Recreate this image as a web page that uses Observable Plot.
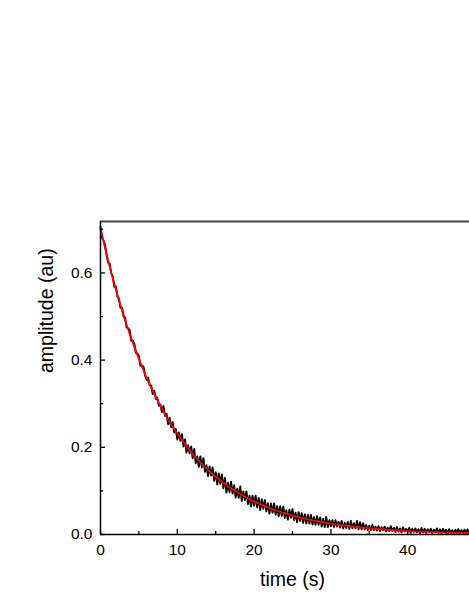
<!DOCTYPE html>
<html>
<head>
<meta charset="utf-8">
<script src="https://cdn.jsdelivr.net/npm/d3@7"></script>
<script src="https://cdn.jsdelivr.net/npm/@observablehq/plot@0.6"></script>
<style>
  html, body { margin: 0; padding: 0; background: #fff; overflow: hidden; width: 469px; height: 607px; }
  #chart { width: 469px; height: 607px; overflow: hidden; }
  #chart svg { display: block; max-width: none !important; width: 500px !important; height: 607px !important; }
</style>
</head>
<body>
<div id="chart"></div>
<script>
// measured signal, sampled every 0.2 s from t = 0 s
const dt = 0.2;
const signal = [
  0.706,0.681,0.674,0.664,0.640, 0.623,0.621,0.599,0.592,0.568,
  0.569,0.546,0.541,0.520,0.520, 0.500,0.498,0.475,0.473,0.469,
  0.444,0.445,0.438,0.417,0.415, 0.409,0.387,0.388,0.385,0.365,
  0.355,0.360,0.342,0.342,0.322, 0.330,0.311,0.314,0.295,0.298,
  0.281,0.295,0.272,0.277,0.253, 0.268,0.246,0.258,0.234,0.242,
  0.218,0.234,0.215,0.230,0.202, 0.218,0.188,0.205,0.186,0.202,
  0.175,0.196,0.164,0.179,0.155, 0.179,0.154,0.175,0.144,0.159,
  0.134,0.156,0.135,0.154,0.123, 0.143,0.115,0.140,0.116,0.138,
  0.106,0.130,0.096,0.119,0.097, 0.121,0.094,0.113,0.085,0.105,
  0.084,0.110,0.077,0.099,0.079, 0.099,0.070,0.089,0.064,0.089,
  0.066,0.089,0.062,0.084,0.056, 0.081,0.059,0.079,0.053,0.072,
  0.048,0.071,0.050,0.071,0.045, 0.065,0.042,0.065,0.043,0.064,
  0.038,0.056,0.034,0.057,0.038, 0.058,0.033,0.050,0.028,0.051,
  0.031,0.049,0.027,0.046,0.025, 0.045,0.025,0.045,0.023,0.040,
  0.022,0.042,0.022,0.039,0.018, 0.036,0.017,0.040,0.017,0.033,
  0.019,0.033,0.017,0.033,0.018, 0.029,0.016,0.031,0.014,0.027,
  0.015,0.029,0.013,0.031,0.014, 0.026,0.014,0.031,0.012,0.028,
  0.012,0.026,0.012,0.022,0.010, 0.020,0.010,0.022,0.010,0.018,
  0.009,0.019,0.008,0.017,0.010, 0.018,0.007,0.016,0.008,0.019,
  0.008,0.015,0.006,0.017,0.007, 0.014,0.005,0.016,0.007,0.013,
  0.006,0.015,0.004,0.013,0.006, 0.014,0.005,0.012,0.003,0.015,
  0.005,0.013,0.004,0.012,0.006, 0.013,0.003,0.011,0.005,0.014,
  0.004,0.012,0.003,0.013,0.005, 0.011,0.002,0.012,0.004,0.010,
  0.003,0.011,0.004,0.012,0.002, 0.010,0.003,0.011,0.004,0.012,
  0.004
];
// exponential fit, one value per second from t = 0 s
const fitTimes = [0,1,2,3,4,5,6,7,8,9,10,11,12,13,14,15,16,17,18,19,20,21,22,23,24,25,26,27,28,29,30,31,32,33,34,35,36,37,38,39,40,41,42,43,44,45,46,47,48,49,50];
const fitValues = [
  0.702,0.628,0.562,0.503,0.450,0.403,0.360,0.3225,0.2886,0.2583,
  0.2311,0.2068,0.1851,0.1656,0.1482,0.1326,0.1187,0.1062,0.0950,0.0850,
  0.0761,0.0681,0.0609,0.0545,0.0488,0.0437,0.0391,0.0349,0.0313,0.0280,
  0.0251,0.0224,0.0201,0.0180,0.0161,0.0144,0.0129,0.0115,0.0103,0.0092,
  0.0083,0.0074,0.0066,0.0059,0.0053,0.0047,0.0042,0.0038,0.0034,0.0030,0.0027
];
const xMajor = [0, 10, 20, 30, 40];
const xMinor = [5, 15, 25, 35, 45];
const yMajor = [0.0, 0.2, 0.4, 0.6];
const yMinor = [0.1, 0.3, 0.5, 0.7];
const xDomain = [0, 50];
const yDomain = [0, 0.718];
const xLabel = "time (s)";
const yLabel = "amplitude (au)";

const signalData = signal.map((v, i) => ({t: i * dt, v}));
const fitData = fitTimes.map((t, i) => ({t, v: fitValues[i]}));

const chart = Plot.plot({
  width: 500,
  height: 607,
  marginTop: 221,
  marginBottom: 73,
  marginLeft: 100,
  marginRight: 16,
  style: {fontFamily: "'Liberation Sans', Arial, sans-serif", background: "#fff", overflow: "visible"},
  x: {domain: xDomain},
  y: {domain: yDomain},
  marks: [
    Plot.lineY(signalData, {x: "t", y: "v", stroke: "#000", strokeWidth: 1.9}),
    Plot.lineY(fitData, {x: "t", y: "v", stroke: "#ff0000", strokeWidth: 1.8, curve: "natural"}),
    Plot.ruleY([yDomain[1]], {stroke: "#444", strokeWidth: 2}),
    Plot.ruleX([xDomain[0]], {stroke: "#000", strokeWidth: 1.5}),
    Plot.ruleY([yDomain[0]], {stroke: "#000", strokeWidth: 1.5}),
    Plot.axisX({ticks: xMajor, tickSize: -5, tickPadding: 14, fontSize: 15.5, label: null, stroke: "#000", strokeWidth: 1.3, fill: "#000"}),
    Plot.axisX({ticks: xMinor, tickSize: -3, text: null, label: null, stroke: "#000", strokeWidth: 1.3}),
    Plot.axisY({ticks: yMajor, tickFormat: d3.format(".1f"), tickSize: -5, tickPadding: 13, fontSize: 15.5, label: null, stroke: "#000", strokeWidth: 1.3, fill: "#000"}),
    Plot.axisY({ticks: yMinor, tickSize: -3, text: null, label: null, stroke: "#000", strokeWidth: 1.3}),
    Plot.text([xLabel], {frameAnchor: "bottom", dy: 51, lineAnchor: "bottom", fontSize: 19.5, fill: "#000"}),
    Plot.text([yLabel], {frameAnchor: "left", rotate: -90, dx: -48, dy: -5, lineAnchor: "bottom", fontSize: 19.5, fill: "#000"})
  ]
});
document.getElementById("chart").appendChild(chart);
</script>
</body>
</html>
